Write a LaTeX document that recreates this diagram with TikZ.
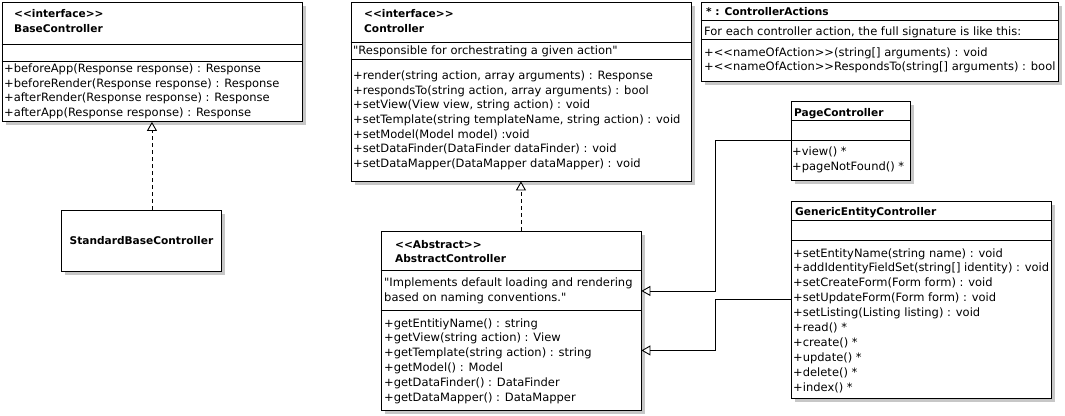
\documentclass[tikz,border=0pt]{standalone}
\usepackage{fontspec}
\setmainfont{DejaVu Sans}[Ligatures=TeXOff]
\usetikzlibrary{arrows.meta,shadows}

\begin{document}
\begin{tikzpicture}[x=1pt,y=-1pt,
  classbox/.style={draw, fill=white, line width=0.9pt, inner sep=0pt, anchor=north west,
    drop shadow={shadow xshift=4pt, shadow yshift=-4pt, fill=black!22, opacity=1}},
  compline/.style={line width=0.9pt},
  txt/.style={inner sep=0pt, anchor=base west, font=\fontsize{11.5}{14}\selectfont},
  ttl/.style={inner sep=0pt, anchor=base west, font=\fontsize{10.6}{13}\selectfont\bfseries},
  realize/.style={line width=0.9pt, dash pattern=on 4pt off 3pt,
    -{Triangle[length=9pt,width=10pt,fill=white]}},
  inherit/.style={line width=0.9pt, -{Triangle[length=9pt,width=10pt,fill=white]}}
]
\useasboundingbox (0,0) rectangle (1065,415);

% ---------- BaseController ----------
\node[classbox, minimum width=300pt, minimum height=119.5pt] (bc) at (1.5,1.5) {};
\draw[compline] (1.5,44.3) -- (301.5,44.3);
\draw[compline] (1.5,61) -- (301.5,61);
\node[ttl] (bc-st) at (14,17.5) {<<interface>>};
\node[ttl] (bc-name) at (14,32) {BaseController};
\foreach \t [count=\i from 0] in {
  {+beforeApp(Response response) : Response},
  {+beforeRender(Response response) : Response},
  {+afterRender(Response response) : Response},
  {+afterApp(Response response) : Response}}
  \node[txt] (bc-m\i) at (4,72.3+14.8*\i) {\t};

% ---------- StandardBaseController ----------
\node[classbox, minimum width=160pt, minimum height=60.5pt] (sbc) at (61,210) {};
\node[ttl, anchor=center] (sbc-name) at (sbc.center) {StandardBaseController};

% ---------- Controller ----------
\node[classbox, minimum width=340pt, minimum height=179pt] (ctrl) at (350.5,1.5) {};
\draw[compline] (350.5,42) -- (690.5,42);
\draw[compline] (350.5,59) -- (690.5,59);
\node[ttl] (ctrl-st) at (364,17.5) {<<interface>>};
\node[ttl] (ctrl-name) at (364,32) {Controller};
\node[txt] (ctrl-doc) at (353,54.5) {"Responsible for orchestrating a given action"};
\foreach \t [count=\i from 0] in {
  {+render(string action, array arguments) : Response},
  {+respondsTo(string action, array arguments) : bool},
  {+setView(View view, string action) : void},
  {+setTemplate(string templateName, string action) : void},
  {+setModel(Model model) :void},
  {+setDataFinder(DataFinder dataFinder) : void},
  {+setDataMapper(DataMapper dataMapper) : void}}
  \node[txt] (ctrl-m\i) at (353,79.3+14.7*\i) {\t};

% ---------- ControllerActions ----------
\node[classbox, minimum width=357.5pt, minimum height=79pt] (ca) at (700.5,1.5) {};
\draw[compline] (700.5,20.5) -- (1058,20.5);
\draw[compline] (700.5,39.5) -- (1058,39.5);
\node[ttl] (ca-name) at (706,15.8) {* : ControllerActions};
\node[txt] (ca-doc) at (704,35) {For each controller action, the full signature is like this:};
\node[txt] (ca-m0) at (704,56) {+<<nameOfAction>>(string[] arguments) : void};
\node[txt] (ca-m1) at (704,70.5) {+<<nameOfAction>>RespondsTo(string[] arguments) : bool};

% ---------- PageController ----------
\node[classbox, minimum width=119pt, minimum height=79.5pt] (pc) at (790.5,100.5) {};
\draw[compline] (790.5,120.5) -- (909.5,120.5);
\draw[compline] (790.5,140.5) -- (909.5,140.5);
\node[ttl] (pc-name) at (794,116) {PageController};
\node[txt] (pc-m0) at (792,155) {+view() *};
\node[txt] (pc-m1) at (792,170) {+pageNotFound() *};

% ---------- GenericEntityController ----------
\node[classbox, minimum width=260pt, minimum height=197.5pt] (gec) at (790.5,200.5) {};
\draw[compline] (790.5,220.5) -- (1050.5,220.5);
\draw[compline] (790.5,240.5) -- (1050.5,240.5);
\node[ttl] (gec-name) at (795,215) {GenericEntityController};
\foreach \t [count=\i from 0] in {
  {+setEntityName(string name) : void},
  {+addIdentityFieldSet(string[] identity) : void},
  {+setCreateForm(Form form) : void},
  {+setUpdateForm(Form form) : void},
  {+setListing(Listing listing) : void},
  {+read() *},
  {+create() *},
  {+update() *},
  {+delete() *},
  {+index() *}}
  \node[txt] (gec-m\i) at (793,257+14.9*\i) {\t};

% ---------- AbstractController ----------
\node[classbox, minimum width=260pt, minimum height=179.5pt] (abs) at (380.5,230.5) {};
\draw[compline] (380.5,270.5) -- (640.5,270.5);
\draw[compline] (380.5,310.5) -- (640.5,310.5);
\node[ttl] (abs-st) at (395,248) {<<Abstract>>};
\node[ttl] (abs-name) at (395,262.5) {AbstractController};
\node[txt] (abs-doc0) at (384,286) {"Implements default loading and rendering};
\node[txt] (abs-doc1) at (384,301) {based on naming conventions."};
\foreach \t [count=\i from 0] in {
  {+getEntitiyName() : string},
  {+getView(string action) : View},
  {+getTemplate(string action) : string},
  {+getModel() : Model},
  {+getDataFinder() : DataFinder},
  {+getDataMapper() : DataMapper}}
  \node[txt] (abs-m\i) at (384,327+14.8*\i) {\t};

% ---------- relations ----------
\draw[realize] (sbc.north -| bc.south) -- (bc.south);
\draw[realize] (abs.north -| ctrl.south) -- (ctrl.south);
\draw[inherit] (pc.west) -- ++(-75,0) |- ([yshift=29.75pt]abs.east);
\draw[inherit] (gec.west) -- ++(-75,0) |- ([yshift=-29.75pt]abs.east);
\end{tikzpicture}
\end{document}
